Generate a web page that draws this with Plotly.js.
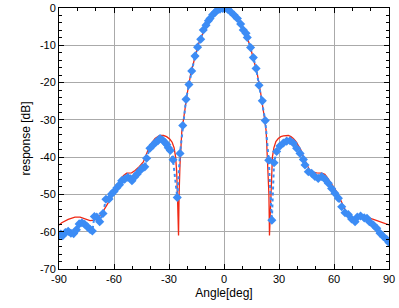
<!DOCTYPE html>
<html><head><meta charset="utf-8">
<script src="https://cdn.plot.ly/plotly-3.0.1.min.js"></script>
<style>html,body{margin:0;padding:0;background:#fff}#plot{width:399px;height:308px}</style>
</head><body><div id="plot"></div>
<script>
// Theoretical pattern (red line)
const theoryAngle = [-90,-88.5,-85,-81.3,-78.5,-75.8,-73.1,-70.7,-68.5,-65.8,-64,-62.2,-60.4,-58.5,-56.7,-54.9,-53.1,-50.4,-48.5,-46.7,-44,-42.2,-40.4,-37.6,-35.5,-34.4,-33,-31.3,-29.5,-28.3,-27.2,-26.4,-25.8,-25.4,-25.1,-24.8,-24.5,-24,-23,-22,-21,-20,-18,-16,-14,-12,-10,-8,-6,-4,-2,0,2,4,6,8,10,12,14,16,18,20,21,22,23,24,24.5,24.8,25.1,25.4,25.8,26.4,27.2,28.3,29.6,31,32.4,34,35.1,36.5,37.8,39.2,40.5,41.9,43.3,45.1,46.5,47.8,49,50.5,53.3,55,56,57.3,58.7,60,61.5,62.8,64.2,65.5,66.9,68.3,69.6,71,72.4,74,75.1,77.8,81.5,85.1,90];
const theoryDB    = [-58.2,-57.6,-56.7,-56.1,-56.1,-56.5,-57.0,-56.9,-56.2,-54.4,-53.0,-51.5,-50.0,-48.2,-46.5,-45.0,-44.3,-44.2,-43.6,-42.8,-41.3,-39.0,-36.8,-35.0,-34.3,-34.2,-34.2,-34.5,-35.2,-36.0,-37.5,-40,-44,-50,-57,-61,-50,-42,-33,-29.3,-25.5,-22.8,-17.3,-13.2,-9.8,-7.3,-5.3,-3.4,-1.9,-0.8,-0.2,0,-0.2,-0.8,-1.9,-3.4,-5.3,-7.3,-9.8,-13.2,-17.3,-22.8,-25.5,-29.3,-33,-42,-50,-61,-57,-50,-44,-40,-37.5,-35.8,-35.0,-34.5,-34.3,-34.2,-34.2,-34.5,-35.0,-35.8,-36.7,-38.0,-39.9,-42.1,-43.3,-43.9,-44.1,-44.2,-44.3,-44.6,-45.2,-46.2,-47.0,-48.2,-49.3,-50.6,-51.9,-53.5,-55.1,-56.0,-56.7,-56.9,-56.7,-56.3,-56.1,-56.1,-56.7,-57.3,-58.2];

// Measured pattern (blue diamonds)
const measAngle = [-90,-89,-88,-86.5,-85,-83.5,-82,-80.5,-79,-77.5,-76,-74.5,-73,-71.8,-70.7,-69.4,-67.8,-66,-64.4,-62.7,-61.3,-60,-58.4,-57,-55.8,-54.2,-52.5,-51,-50.2,-48.8,-47.3,-45.8,-44.5,-43.2,-42.2,-40.4,-38.6,-37.2,-36,-34.9,-33.5,-32.2,-31.2,-30.4,-29.3,-27.8,-25.5,-24.0,-22.5,-20.7,-19.1,-17.6,-15.8,-14.4,-12.7,-11.3,-9.8,-8.5,-7.6,-6.2,-4.9,-3.5,-2.2,-0.7,0.5,2.0,3.6,5.5,7.3,9.1,10.5,12.0,12.7,14.5,16.0,17.5,19.1,20.9,22.5,24.4,26.1,27.3,28.7,30.5,32.4,34.2,36.0,37.8,39.6,41.5,43.3,44.2,46.0,47.8,49.6,51.4,53.3,55.1,56.9,58.7,60.5,62.4,64.2,66.0,67.8,69.6,71.5,72.7,74.5,76.5,78.0,79.3,81.5,83.3,85.1,86.9,88.7,90];
const measDB    = [-61.0,-60.6,-61.1,-60.2,-59.9,-60.4,-60.5,-59.5,-57.9,-57.6,-58.0,-58.7,-59.4,-59.8,-55.9,-56.1,-57.3,-55.1,-51.3,-51.2,-49.9,-49.2,-48.2,-47.4,-46.3,-45.9,-45.4,-45.8,-46.3,-45.3,-44.5,-43.6,-42.9,-42.6,-40.3,-37.6,-36.7,-36.0,-35.6,-35.0,-35.4,-36.1,-36.6,-37.5,-38.2,-40.7,-50.8,-39.0,-31.5,-24.5,-20.5,-16.9,-12.9,-10.5,-8.4,-5.9,-4.6,-3.4,-2.8,-1.8,-1.2,-0.5,-0.3,-0.1,0,-0.35,-1.0,-1.9,-2.8,-4.3,-5.9,-6.8,-7.9,-10.6,-13.3,-16.2,-20.7,-24.9,-30.2,-40.8,-56.9,-41.5,-38.5,-37.0,-36.2,-35.7,-35.6,-36.2,-37.6,-39.0,-40.6,-42.1,-43.9,-44.3,-45.2,-45.7,-45.2,-45.9,-47.0,-48.4,-49.7,-51.0,-53.3,-54.9,-55.4,-56.6,-57.3,-56.1,-55.8,-56.3,-56.4,-57.3,-58.2,-59.1,-60.4,-61.3,-62.1,-62.9];

const xTicks = [-90,-60,-30,0,30,60,90];
const yTicks = [-70,-60,-50,-40,-30,-20,-10,0];

const font = {family:'Liberation Sans, Arial, sans-serif', size:11, color:'#000'};
const traces = [
  {x: theoryAngle, y: theoryDB, type:'scatter', mode:'lines',
   line:{color:'rgb(240,40,20)', width:1.3}, hoverinfo:'skip'},
  {x: measAngle, y: measDB, type:'scatter', mode:'lines+markers',
   line:{color:'rgb(60,140,245)', width:2, dash:'dot'},
   marker:{symbol:'diamond', size:7, color:'rgb(60,140,245)'}}
];
const axisCommon = {
  showline:true, linecolor:'#000', linewidth:1, mirror:'allticks',
  ticks:'inside', ticklen:5, tickcolor:'#000', tickwidth:1,
  showgrid:true, gridcolor:'#aaaaaa', gridwidth:1, zeroline:false,
  tickfont:font
};
const layout = {
  width:399, height:308,
  margin:{l:59, r:10, t:8, b:39},
  paper_bgcolor:'#fff', plot_bgcolor:'#fff',
  showlegend:false, font:font,
  xaxis: Object.assign({}, axisCommon, {
    range:[-90,90], tickvals:xTicks, ticktext:xTicks.map(String),
    minor:{dtick:10, ticks:'inside', ticklen:3, tickcolor:'#000', showgrid:false},
    title:{text:'Angle[deg]', font:{family:font.family, size:12, color:'#000'}, standoff:4}
  }),
  yaxis: Object.assign({}, axisCommon, {
    range:[-70,0], tickvals:yTicks, ticktext:yTicks.map(String),
    minor:{dtick:2, ticks:'inside', ticklen:3, tickcolor:'#000', showgrid:false},
    title:{text:'response [dB]', font:{family:font.family, size:12, color:'#000'}, standoff:6}
  })
};
Plotly.newPlot('plot', traces, layout, {displayModeBar:false, staticPlot:true});
</script></body></html>
